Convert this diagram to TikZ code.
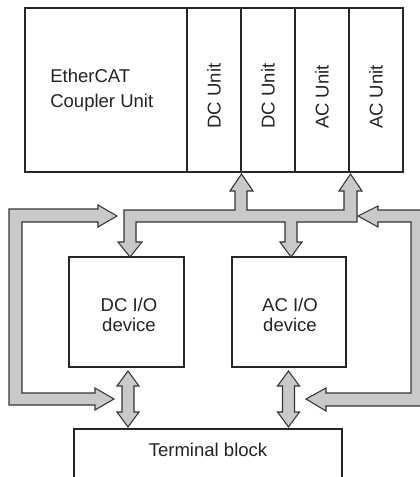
\documentclass[tikz,border=0pt]{standalone}
\usepackage{fontspec}
\setmainfont{Liberation Sans}
\definecolor{arrowfill}{HTML}{C8C9CB}
\definecolor{arrowline}{HTML}{353535}
\definecolor{boxline}{HTML}{262626}
\definecolor{txt}{HTML}{232323}
\tikzset{
  boxline/.style={draw=boxline, line width=0.9pt},
  blockarrow/.style={fill=arrowfill, draw=arrowline, line width=0.8pt, line join=miter},
  lbl/.style={inner sep=0pt, text=txt, font=\fontsize{13.9}{18.75}\selectfont},
  unitlbl/.style={lbl, rotate=90},
}
\begin{document}
\begin{tikzpicture}[x=0.75pt, y=-0.75pt]
\useasboundingbox (0,0) rectangle (419,477);

% ---------- EtherCAT coupler + units ----------
\draw[boxline] (25,8) rectangle (403,172);
\foreach \x in {187,241,295,349} \draw[boxline] (\x,8) -- (\x,172);
\node[lbl, align=left, anchor=west] (coupler) at (50,90) {EtherCAT\\Coupler Unit};
\node[unitlbl] (dc1) at (214,96) {DC Unit};
\node[unitlbl] (dc2) at (268,96) {DC Unit};
\node[unitlbl] (ac1) at (322,97) {AC Unit};
\node[unitlbl] (ac2) at (376,97) {AC Unit};

% ---------- I/O devices ----------
\draw[boxline] (69,257) rectangle (184,367);
\draw[boxline] (232,257) rectangle (346,367);
\node[lbl, align=center, font=\fontsize{13.9}{14.5}\selectfont] (dcio) at (129,315) {DC I/O\\device};
\node[lbl, align=center, font=\fontsize{13.9}{14.5}\selectfont] (acio) at (290,315) {AC I/O\\device};

% ---------- Terminal block (open at bottom) ----------
\draw[boxline] (74,490) -- (74,429) -- (342,429) -- (342,490);
\node[lbl, anchor=base] (term) at (208,456.5) {Terminal block};

% ---------- internal bus arrow ----------
\draw[blockarrow]
  (130,257) -- (142,242) -- (136,242) -- (136,222) -- (285,222) -- (285,242)
  -- (280,242) -- (291,257) -- (302,242) -- (297,242) -- (297,222)
  -- (357,222) -- (357,191) -- (362,191) -- (350.5,174) -- (339,191) -- (344,191)
  -- (344,210) -- (247,210) -- (247,191) -- (253,191) -- (241.5,174) -- (230,191)
  -- (235,191) -- (235,210) -- (124,210) -- (124,242) -- (118,242) -- cycle;

% ---------- left loop arrow ----------
\draw[blockarrow]
  (117,216) -- (98,205) -- (98,209) -- (9,209) -- (9,405) -- (95,405) -- (95,410)
  -- (114,399) -- (95,388) -- (95,393) -- (22,393) -- (22,222) -- (98,222)
  -- (98,227) -- cycle;

% ---------- right loop arrow ----------
\draw[blockarrow]
  (358,216) -- (378,206) -- (378,210) -- (424,210) -- (424,406) -- (326,406)
  -- (326,411) -- (306,399) -- (326,388) -- (326,393) -- (411,393) -- (411,222)
  -- (378,222) -- (378,227) -- cycle;

% ---------- device <-> terminal block double arrows ----------
\foreach \cx in {128,288.5} {
  \draw[blockarrow]
    (\cx,371) -- ({\cx+11},386) -- ({\cx+6},386) -- ({\cx+6},412) -- ({\cx+11},412)
    -- (\cx,427) -- ({\cx-11},412) -- ({\cx-6},412) -- ({\cx-6},386) -- ({\cx-11},386) -- cycle;
}
\end{tikzpicture}
\end{document}
